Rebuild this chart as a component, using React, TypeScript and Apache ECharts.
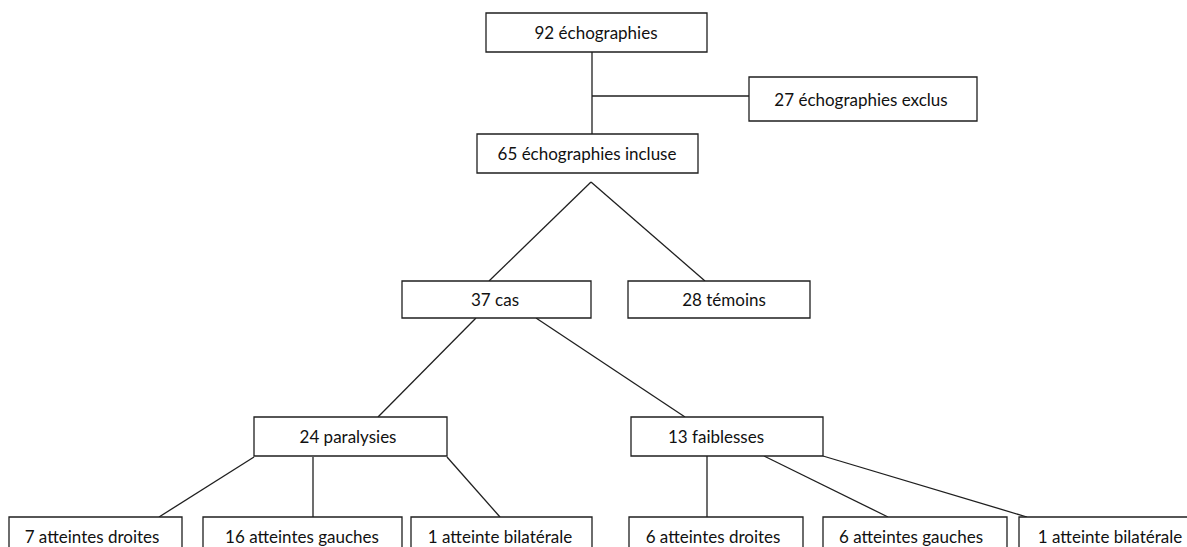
import React, { useEffect, useRef } from "react";
import * as echarts from "echarts";

// Flowchart content
const boxLabels = [
  "92 échographies",
  "27 échographies exclus",
  "65 échographies incluse",
  "37 cas",
  "28 témoins",
  "24 paralysies",
  "13 faiblesses",
  "7 atteintes droites",
  "16 atteintes gauches",
  "1 atteinte bilatérale",
  "6 atteintes droites",
  "6 atteintes gauches",
  "1 atteinte bilatérale",
];
// Box geometry (page coordinates)
const boxLeft = [486, 749, 477, 402, 628, 254, 631, 9, 203, 411, 629, 823, 1019];
const boxTop = [13, 77, 134, 281, 281, 417, 417, 517, 517, 517, 517, 517, 517];
const boxRight = [707, 977, 698, 591, 810, 447, 823, 182, 402, 592, 803, 1007, 1210];
const boxBottom = [52, 121, 173, 318, 318, 456, 456, 558, 558, 558, 558, 558, 558];
const labelCenterX = [596, 861, 587, 495, 724, 348, 716, 92, 302, 500, 713, 911, 1110];

// Connectors: start x, start y, end x, end y
const linkX1 = [592, 592, 591, 591, 476, 536, 254, 313, 447, 707, 764, 823];
const linkY1 = [52, 96, 182, 182, 318, 318, 457, 457, 457, 456, 456, 456];
const linkX2 = [592, 749, 489, 705, 378, 685, 159, 313, 500, 707, 888, 1027];
const linkY2 = [134, 96, 281, 281, 417, 417, 517, 517, 517, 517, 517, 517];

const W = 1187;
const H = 547;

export default function App() {
  const ref = useRef<HTMLDivElement>(null);
  useEffect(() => {
    if (!ref.current) return;
    const chart = echarts.init(ref.current, null, { renderer: "svg" });
    const boxData = boxLabels.map((_, i) => [
      boxLeft[i],
      boxTop[i],
      boxRight[i],
      boxBottom[i],
      labelCenterX[i],
      i,
    ]);
    const linkData = linkX1.map((_, i) => [linkX1[i], linkY1[i], linkX2[i], linkY2[i]]);
    chart.setOption({
      animation: false,
      backgroundColor: "#ffffff",
      grid: { left: 0, right: 0, top: 0, bottom: 0 },
      xAxis: { type: "value", min: 0, max: W, show: false },
      yAxis: { type: "value", min: 0, max: H, inverse: true, show: false },
      series: [
        {
          type: "custom",
          coordinateSystem: "cartesian2d",
          data: linkData,
          z: 1,
          silent: true,
          renderItem: (params: any, api: any) => {
            const a = api.coord([api.value(0), api.value(1)]);
            const b = api.coord([api.value(2), api.value(3)]);
            return {
              type: "line",
              shape: { x1: a[0], y1: a[1], x2: b[0], y2: b[1] },
              style: { stroke: "#1f1f1f", lineWidth: 1.3 },
            };
          },
        },
        {
          type: "custom",
          coordinateSystem: "cartesian2d",
          data: boxData,
          z: 2,
          silent: true,
          renderItem: (params: any, api: any) => {
            const p0 = api.coord([api.value(0), api.value(1)]);
            const p1 = api.coord([api.value(2), api.value(3)]);
            const tx = api.coord([api.value(4), 0])[0];
            const idx = api.value(5);
            return {
              type: "group",
              children: [
                {
                  type: "rect",
                  shape: {
                    x: p0[0],
                    y: p0[1],
                    width: p1[0] - p0[0],
                    height: p1[1] - p0[1],
                  },
                  style: { fill: "#ffffff", stroke: "#1f1f1f", lineWidth: 1.3 },
                },
                {
                  type: "text",
                  x: tx,
                  y: (p0[1] + Math.min(p1[1], 556)) / 2,
                  style: {
                    text: boxLabels[idx],
                    fill: "#111111",
                    font: "17px Lato",
                    align: "center",
                    verticalAlign: "middle",
                  },
                },
              ],
            };
          },
        },
      ],
    });
    return () => chart.dispose();
  }, []);
  return (
    <div
      ref={ref}
      style={{ position: "fixed", left: 0, top: 0, width: W, height: H, background: "#fff" }}
    />
  );
}
